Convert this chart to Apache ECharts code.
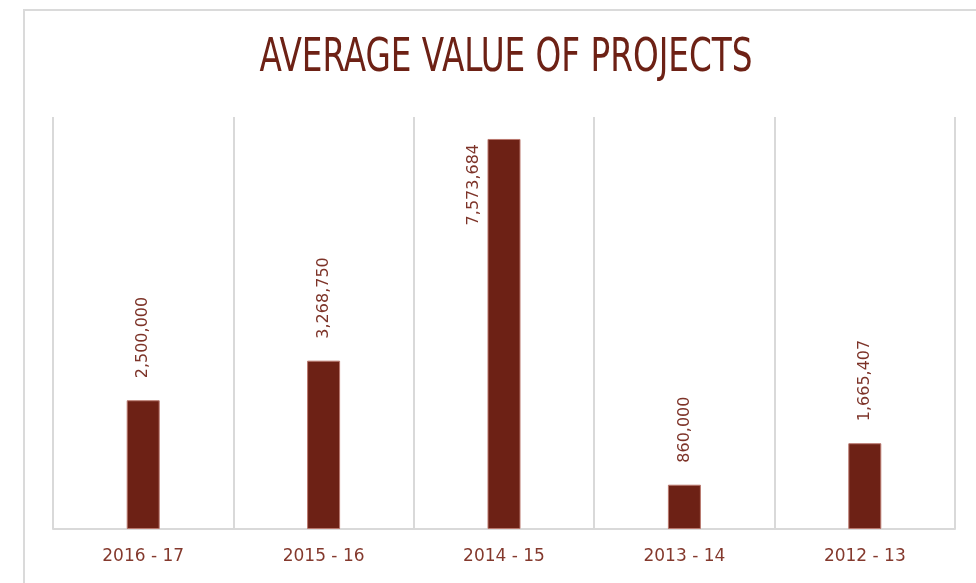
<!DOCTYPE html>
<html>
<head>
<meta charset="utf-8">
<style>
  html, body { margin: 0; padding: 0; background: #fff; }
  #main { width: 976px; height: 583px; }
</style>
<script src="https://cdn.jsdelivr.net/npm/echarts@6/dist/echarts.min.js"></script>
</head>
<body>
<div id="main"></div>
<script>
    // data
    var years = ['2016 - 17', '2015 - 16', '2014 - 15', '2013 - 14', '2012 - 13'];
    var avgValue = [2500000, 3268750, 7573684, 860000, 1665407];

    var barColor = '#6d2115';
    var textColor = '#7d3328';

    // the tallest bar has no room above it, its label sits beside the bar
    var barData = avgValue.map(function (v, i) {
        if (v > 7000000) {
            return {
                value: v,
                label: { position: [-14, 5], align: 'right', verticalAlign: 'middle' }
            };
        }
        return v;
    });

    var myChart = echarts.init(document.getElementById('main'));

    var option = {
        backgroundColor: '#fff',
        animation: false,
        graphic: [
            {
                type: 'rect',
                shape: { x: 24, y: 10, width: 1000, height: 600 },
                style: { fill: 'none', stroke: '#dadada', lineWidth: 2 },
                silent: true
            },
            {
                // condensed title, squeezed to the width of the original
                type: 'text',
                x: 506,
                y: 36,
                scaleX: 0.79,
                style: {
                    text: 'AVERAGE VALUE OF PROJECTS',
                    fill: barColor,
                    textAlign: 'center',
                    font: '46px "Liberation Sans Narrow", "DejaVu Sans Condensed", sans-serif'
                }
            }
        ],
        grid: { left: 53, right: 21, top: 117, bottom: 54 },
        xAxis: {
            type: 'category',
            data: years,
            axisLine: { lineStyle: { color: '#d9d9d9', width: 2 } },
            axisTick: { show: false },
            splitLine: { show: true, lineStyle: { color: '#d9d9d9', width: 2 } },
            axisLabel: {
                color: '#84392d',
                fontFamily: 'DejaVu Sans',
                fontSize: 17,
                margin: 19
            }
        },
        yAxis: {
            type: 'value',
            min: 0,
            max: 8000000,
            show: false,
            splitLine: { show: false }
        },
        series: [{
            type: 'bar',
            data: barData,
            barWidth: 33,
            itemStyle: { color: barColor, borderColor: '#b9776d', borderWidth: 1 },
            label: {
                show: true,
                position: 'top',
                distance: 22,
                rotate: 90,
                align: 'left',
                verticalAlign: 'middle',
                color: textColor,
                fontFamily: 'DejaVu Sans',
                fontSize: 16,
                formatter: function (p) {
                    return p.value.toLocaleString('en-US');
                }
            }
        }]
    };

    myChart.setOption(option);
</script>
</body>
</html>
